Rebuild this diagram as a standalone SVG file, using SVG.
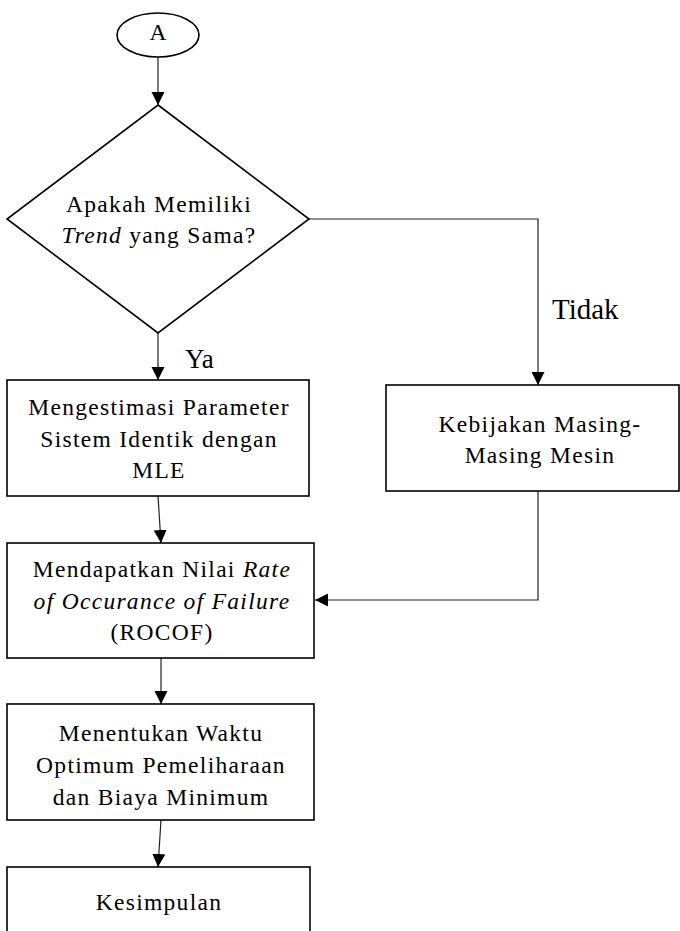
<svg xmlns="http://www.w3.org/2000/svg" width="680" height="931" viewBox="0 0 680 931">
<style>
.shape{fill:#fff;stroke:#000;stroke-width:1.6}
.conn{fill:none;stroke:#222;stroke-width:1.2}
.t{font-family:'Liberation Serif',Tinos,'Times New Roman','DejaVu Serif',serif;font-size:23.5px;letter-spacing:1.3px;fill:#000;text-anchor:middle}
.lbl{font-family:'Liberation Serif',Tinos,'Times New Roman','DejaVu Serif',serif;fill:#000}
.i{font-style:italic}
</style>
<defs>
<marker id="arr" markerUnits="userSpaceOnUse" markerWidth="14" markerHeight="14" viewBox="0 0 14 14" refX="13" refY="7" orient="auto">
<path d="M0,0.5 L13,7 L0,13.5 z" fill="#000"/>
</marker>
</defs>
<g id="connectors">
<line class="conn" x1="158" y1="57" x2="158" y2="105" marker-end="url(#arr)"/>
<line class="conn" x1="158" y1="333" x2="158" y2="380" marker-end="url(#arr)"/>
<polyline class="conn" points="309,219 538,219 538,385" marker-end="url(#arr)"/>
<line class="conn" x1="158" y1="496" x2="161" y2="543" marker-end="url(#arr)"/>
<polyline class="conn" points="538,491 538,600 315,600" marker-end="url(#arr)"/>
<line class="conn" x1="161" y1="658" x2="161" y2="704" marker-end="url(#arr)"/>
<line class="conn" x1="161" y1="820" x2="158" y2="867" marker-end="url(#arr)"/>
<text class="lbl" x="185" y="368" font-size="27">Ya</text>
<text class="lbl" x="552" y="319" font-size="29">Tidak</text>
</g>
<g id="nodeA">
<ellipse class="shape" cx="158" cy="35" rx="41" ry="22"/>
<text class="t" x="158" y="40" style="letter-spacing:0">A</text>
</g>
<g id="decision">
<polygon class="shape" points="158,105 309,219 158,333 7,219"/>
<text class="t" x="159" y="212">Apakah Memiliki</text>
<text class="t" x="159" y="243"><tspan class="i">Trend</tspan> yang Sama?</text>
</g>
<g id="mle">
<rect class="shape" x="7" y="380" width="302" height="116"/>
<text class="t" x="159" y="415">Mengestimasi Parameter</text>
<text class="t" x="159" y="447">Sistem Identik dengan</text>
<text class="t" x="159" y="478">MLE</text>
</g>
<g id="kebijakan">
<rect class="shape" x="386" y="385" width="293" height="106"/>
<text class="t" x="540" y="432">Kebijakan Masing-</text>
<text class="t" x="540" y="463">Masing Mesin</text>
</g>
<g id="rocof">
<rect class="shape" x="7" y="543" width="307" height="115"/>
<text class="t" x="162" y="577">Mendapatkan Nilai <tspan class="i">Rate</tspan></text>
<text class="t" x="162" y="609"><tspan class="i">of Occurance of Failure</tspan></text>
<text class="t" x="162" y="640">(ROCOF)</text>
</g>
<g id="optimum">
<rect class="shape" x="7" y="704" width="307" height="116"/>
<text class="t" x="161" y="741">Menentukan Waktu</text>
<text class="t" x="161" y="773">Optimum Pemeliharaan</text>
<text class="t" x="161" y="805">dan Biaya Minimum</text>
</g>
<g id="kesimpulan">
<rect class="shape" x="7" y="867" width="303" height="80"/>
<text class="t" x="159" y="910">Kesimpulan</text>
</g>
</svg>
